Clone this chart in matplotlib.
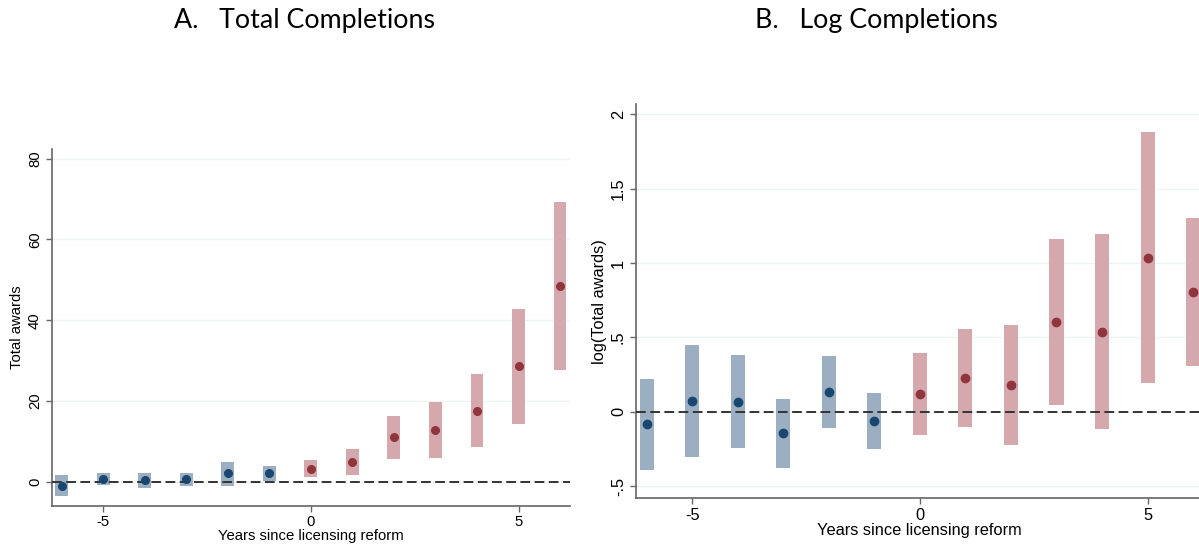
import matplotlib
matplotlib.use("Agg")
import matplotlib.pyplot as plt
import numpy as np

plt.rcParams['font.family'] = ['Liberation Sans', 'DejaVu Sans']

years = [-6, -5, -4, -3, -2, -1, 0, 1, 2, 3, 4, 5, 6]

# panel A: total awards
total_est = [-1.0, 0.7, 0.4, 0.6, 2.1, 2.1, 3.3, 4.9, 11.0, 12.9, 17.6, 28.6, 48.4]
total_hi = [1.6, 2.1, 2.2, 2.1, 5.0, 4.0, 5.5, 8.2, 16.2, 19.8, 26.6, 42.9, 69.2]
total_lo = [-3.5, -0.7, -1.6, -1.0, -1.0, 0.1, 1.1, 1.7, 5.6, 6.0, 8.6, 14.4, 27.8]

# panel B: log awards
log_est = [-0.083, 0.070, 0.065, -0.143, 0.132, -0.065, 0.121, 0.229, 0.179, 0.603, 0.538, 1.036, 0.805]
log_hi = [0.222, 0.446, 0.379, 0.087, 0.372, 0.123, 0.397, 0.558, 0.581, 1.159, 1.193, 1.883, 1.305]
log_lo = [-0.392, -0.305, -0.247, -0.379, -0.108, -0.251, -0.155, -0.101, -0.224, 0.047, -0.117, 0.191, 0.305]

yticks_a = [0, 20, 40, 60, 80]
yticks_b = [-0.5, 0, 0.5, 1, 1.5, 2]
yticklabels_b = ['-.5', '0', '.5', '1', '1.5', '2']
xticks = [-5, 0, 5]

navy = '#1a476f'
maroon = '#90353b'
navy_bar = '#9cafc2'
maroon_bar = '#d5a8ae'


def draw_panel(ax, est, lo, hi, yticks, yticklabels, ylim, ylabel, msize, fs):
    yr = np.array(years)
    est = np.array(est)
    lo = np.array(lo)
    hi = np.array(hi)
    pre = yr < 0
    post = ~pre
    for y in yticks:
        ax.axhline(y, color='#edf2f2', lw=1.0, zorder=0)
    ax.bar(yr[pre], hi[pre] - lo[pre], bottom=lo[pre], width=0.31,
           color=navy_bar, zorder=2)
    ax.bar(yr[post], hi[post] - lo[post], bottom=lo[post], width=0.31,
           color=maroon_bar, zorder=2)
    ln = ax.axhline(0, color='#333333', lw=1.4, zorder=3)
    ln.set_dashes([5, 2.3])
    ax.plot(yr[pre], est[pre], 'o', color=navy, ms=msize, zorder=4)
    ax.plot(yr[post], est[post], 'o', color=maroon, ms=msize, zorder=4)
    ax.set_xlim(-6.24, 6.24)
    ax.set_ylim(*ylim)
    ax.set_xticks(xticks)
    ax.set_xticklabels([str(t) for t in xticks], fontsize=fs)
    ax.set_yticks(yticks)
    ax.set_yticklabels(yticklabels, fontsize=fs, rotation=90, va='center')
    ax.set_xlabel('Years since licensing reform', fontsize=fs, labelpad=0)
    ax.set_ylabel(ylabel, fontsize=fs, labelpad=3)
    for s in ['top', 'right']:
        ax.spines[s].set_visible(False)
    for s in ['left', 'bottom']:
        ax.spines[s].set_color('#666666')
        ax.spines[s].set_linewidth(1.2)
    ax.tick_params(length=4, width=1, color='#666666', pad=3)


fig = plt.figure(figsize=(11.99, 5.49), dpi=100)
ax1 = fig.add_axes([0.0431, 0.0789, 0.4323, 0.6497])
ax2 = fig.add_axes([0.5302, 0.0929, 0.4740, 0.7171])

draw_panel(ax1, total_est, total_lo, total_hi, yticks_a,
           [str(t) for t in yticks_a], (-5.9, 82.4), 'Total awards', 5.5, 10.7)
draw_panel(ax2, log_est, log_lo, log_hi, yticks_b, yticklabels_b,
           (-0.58, 2.068), 'log(Total awards)', 6, 11.8)

fig.text(0.254, 0.963, 'A.   Total Completions', fontsize=19.3, family='Lato',
         ha='center', va='center')
fig.text(0.731, 0.963, 'B.   Log Completions', fontsize=19.3, family='Lato',
         ha='center', va='center')

fig.savefig('out.png', dpi=100)
